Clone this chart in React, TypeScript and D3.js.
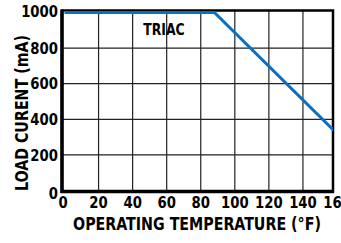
import React from "react";
import * as d3 from "d3";

const xTicks = [0, 20, 40, 60, 80, 100, 120, 140, 160];
const yTicks = [0, 200, 400, 600, 800, 1000];
const tempF = [0, 88, 160];
const currentMA = [1000, 1000, 320];
const seriesLabel = "TRIAC";
const xTitle = "OPERATING TEMPERATURE (°F)";
const yTitle = "LOAD CURENT (mA)";

const W = 341;
const H = 243;
const box = { left: 62, right: 333, top: 10.5, bottom: 191.5 };
const FONT = "'Liberation Sans Narrow', 'DejaVu Sans Condensed', 'Arial Narrow', sans-serif";

function T(props: {
  x: number;
  y: number;
  size: number;
  sx: number;
  anchor: "start" | "middle" | "end";
  rot?: number;
  children: React.ReactNode;
}) {
  const { x, y, size, sx, anchor, rot = 0, children } = props;
  return (
    <text
      transform={`translate(${x},${y}) rotate(${rot}) scale(${sx},1)`}
      dy="0.36em"
      textAnchor={anchor}
      fontSize={size}
    >
      {children}
    </text>
  );
}

export default function App() {
  const x = d3.scaleLinear().domain([0, 160]).range([64.5, 337]);
  const y = d3.scaleLinear().domain([0, 1000]).range([190.5, 12.5]);
  const pts = tempF.map((t, i) => [t, currentMA[i]] as [number, number]);
  const line = d3
    .line<[number, number]>()
    .x((d) => x(d[0]))
    .y((d) => y(d[1]));

  return (
    <svg
      width={W}
      height={H}
      style={{ position: "fixed", left: 0, top: 0, background: "#fff" }}
      fontFamily={FONT}
      fontWeight="bold"
    >
      <defs>
        <clipPath id="plotclip">
          <rect x={box.left} y={0} width={box.right - box.left} height={box.bottom} />
        </clipPath>
      </defs>
      <rect x={0} y={0} width={W} height={H} fill="#fff" />
      {xTicks.slice(1, -1).map((t) => (
        <line key={"gx" + t} x1={x(t)} x2={x(t)} y1={box.top} y2={box.bottom} stroke="#222" strokeWidth={1.2} />
      ))}
      {yTicks.slice(1, -1).map((t) => (
        <line key={"gy" + t} x1={box.left} x2={box.right} y1={y(t)} y2={y(t)} stroke="#222" strokeWidth={1.2} />
      ))}
      <rect
        x={box.left}
        y={box.top}
        width={box.right - box.left}
        height={box.bottom - box.top}
        fill="none"
        stroke="#000"
        strokeWidth={2.5}
      />
      <line x1={box.left} x2={box.left} y1={box.top - 1} y2={box.bottom + 1.5} stroke="#000" strokeWidth={3.5} />
      <line x1={box.left - 1.5} x2={box.right + 1} y1={box.bottom} y2={box.bottom} stroke="#000" strokeWidth={3.5} />
      <path d={line(pts) || ""} fill="none" stroke="#0a6fc4" strokeWidth={3} clipPath="url(#plotclip)" />
      {xTicks.map((t) => (
        <T key={"xl" + t} x={t === 0 ? box.left + 1 : x(t)} y={202} size={16} sx={0.92} anchor="middle">
          {t}
        </T>
      ))}
      {yTicks.map((t) => (
        <T key={"yl" + t} x={58} y={t === 0 ? 193 : y(t) - (t === 1000 ? 1.5 : 0)} size={16} sx={0.92} anchor="end">
          {t}
        </T>
      ))}
      <T x={164} y={30} size={15} sx={0.92} anchor="middle">
        {seriesLabel}
      </T>
      <T x={197} y={224} size={18} sx={0.88} anchor="middle">
        {xTitle}
      </T>
      <T x={22} y={113} size={18} sx={0.88} anchor="middle" rot={-90}>
        {yTitle}
      </T>
    </svg>
  );
}
